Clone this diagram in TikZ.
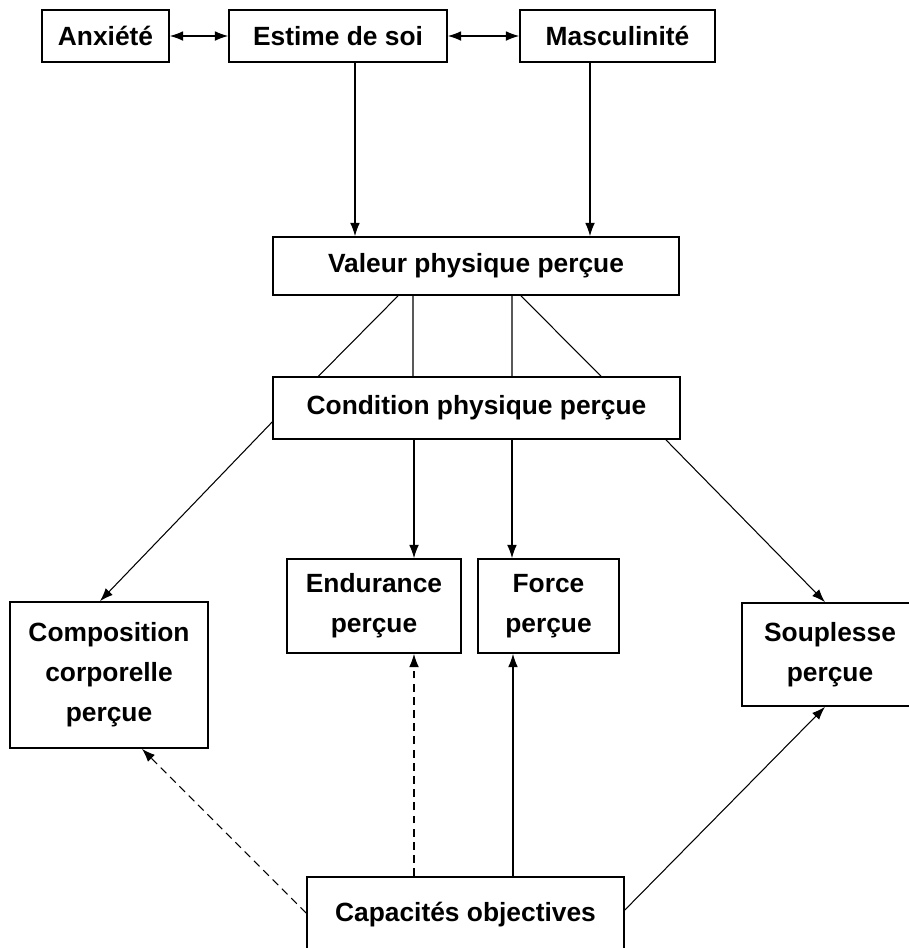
\documentclass[tikz,border=0pt]{standalone}
\usepackage{fontspec}
\setmainfont{Liberation Sans}
\usepackage{xcolor}
\usepackage{tikz}
\usetikzlibrary{shapes,arrows,arrows.meta,positioning,calc}

\begin{document}
\begin{tikzpicture}[
      x=0.02cm, y=-0.02cm,
      >={Latex[length=7.5pt,width=5.5pt]},
      box/.style={draw, rectangle, line width=1pt, align=center, inner sep=0pt,
                  font=\bfseries\fontsize{15}{22.7}\selectfont},
      link/.style={line width=0.6pt},
      pointille/.style={dash pattern=on 4.5pt off 3pt}
    ]
    \useasboundingbox (0,0) rectangle (909,948);
    \clip (0,0) rectangle (909,948);

    % rangee du haut
    \node[box, minimum width=2.54cm, minimum height=1.04cm] (anx) at (105.5,36) {Anxiété};
    \node[box, minimum width=4.36cm, minimum height=1.04cm] (estime) at (338,36) {Estime de soi};
    \node[box, minimum width=3.9cm, minimum height=1.04cm] (masc) at (617.5,36) {Masculinité};

    \node[box, minimum width=8.12cm, minimum height=1.16cm] (valeur) at (476,266) {Valeur physique perçue};
    \node[box, minimum width=8.14cm, minimum height=1.24cm] (cond) at (476.5,408) {Condition physique perçue};

    % sous-domaines
    \node[box, minimum width=3.96cm, minimum height=2.92cm] (compo) at (109,675) {Composition\\corporelle\\perçue};
    \node[box, minimum width=3.48cm, minimum height=1.88cm] (endur) at (374,606) {Endurance\\perçue};
    \node[box, minimum width=2.82cm, minimum height=1.88cm] (force) at (548.5,606) {Force\\perçue};
    \node[box, minimum width=3.52cm, minimum height=2.06cm] (soupl) at (830,654.5) {Souplesse\\perçue};

    \node[box, minimum width=6.34cm, minimum height=1.52cm] (capa) at (465.5,915) {Capacités objectives};

    \draw[link, <->] (anx) -- (estime);
    \draw[link, <->] (estime) -- (masc);
    \draw[link, ->] ([xshift=0.34cm]estime.south) -- ([xshift=0.34cm]estime.south |- valeur.north);
    \draw[link, ->] ([xshift=-0.55cm]masc.south) -- ([xshift=-0.55cm]masc.south |- valeur.north);

    % valeur -> condition
    \draw[link] ([xshift=-1.56cm]valeur.south) -- ([xshift=-3.16cm]cond.north);
    \draw[link] ([xshift=-1.26cm]valeur.south) -- ([xshift=-1.27cm]cond.north);
    \draw[link] ([xshift=0.72cm]valeur.south) -- ([xshift=0.71cm]cond.north);
    \draw[link] ([xshift=0.9cm]valeur.south) -- ([xshift=2.49cm]cond.north);

    \draw[link, ->] ([yshift=-0.28cm]cond.west) -- ([xshift=-0.18cm]compo.north);
    \draw[link, ->] ([xshift=-1.25cm]cond.south) -- ([xshift=-1.25cm]cond.south |- endur.north);
    \draw[link, ->] ([xshift=0.71cm]cond.south) -- ([xshift=0.71cm]cond.south |- force.north);
    \draw[link, ->] ([xshift=3.79cm]cond.south) -- ([xshift=-0.1cm]soupl.north);

    % capacites objectives
    \draw[link, pointille, ->] ([yshift=0.04cm]capa.west) -- ([xshift=0.66cm]compo.south);
    \draw[link, pointille, ->] ([xshift=-1.03cm]capa.north) -- ([xshift=-1.03cm]capa.north |- endur.south);
    \draw[link, ->] ([xshift=0.95cm]capa.north) -- ([xshift=0.95cm]capa.north |- force.south);
    \draw[link, ->] ([yshift=0.1cm]capa.east) -- ([xshift=-0.1cm]soupl.south);
  \end{tikzpicture}
\end{document}
